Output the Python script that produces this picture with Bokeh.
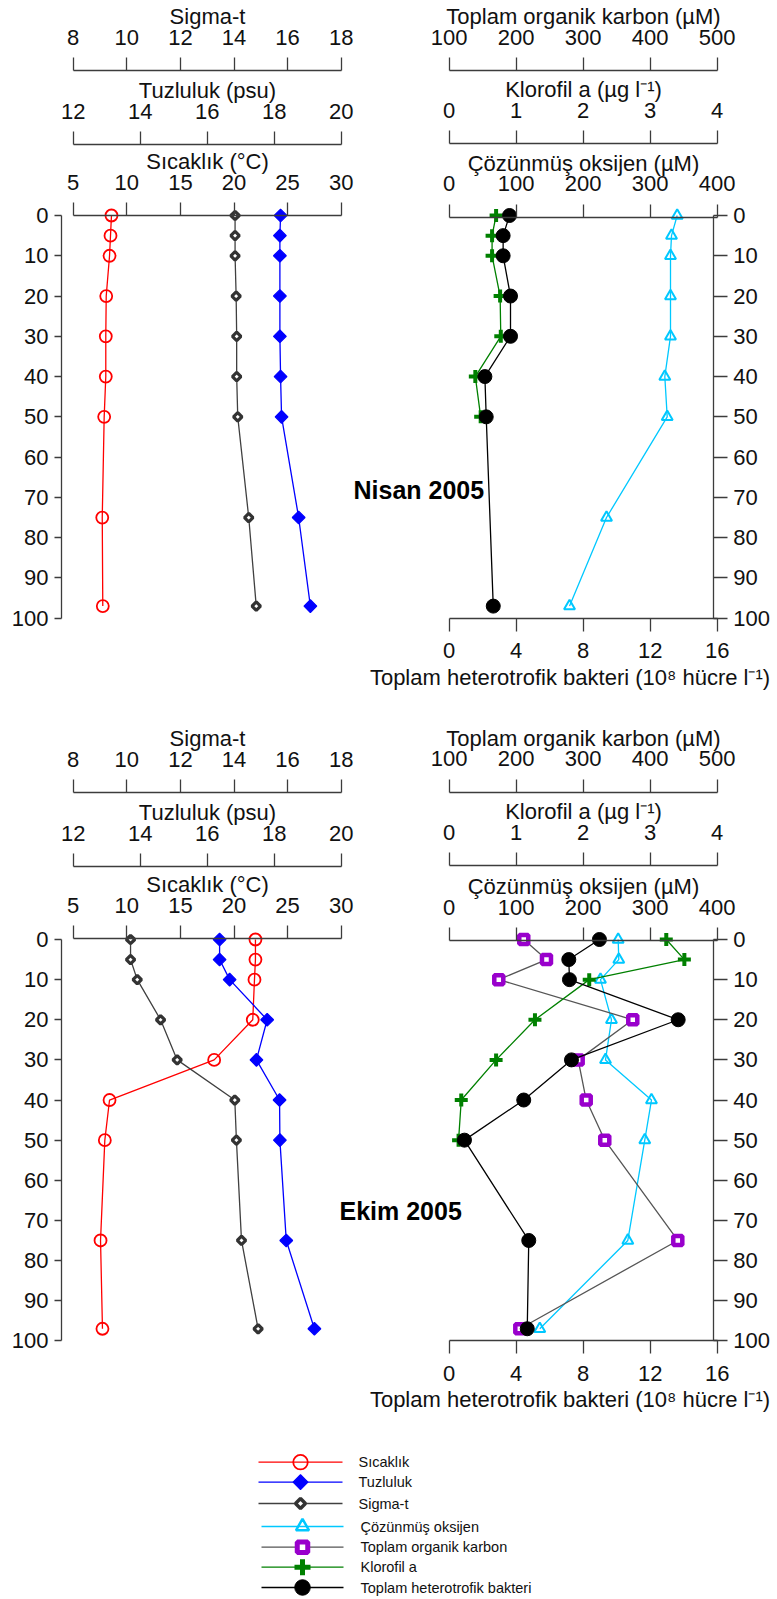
import math
from bokeh.plotting import figure
from bokeh.models import Range1d, LinearAxis, FixedTicker, Label
from bokeh.core.properties import value
from bokeh.layouts import column
from bokeh.embed import file_html
from bokeh.resources import INLINE

# ---------------- data ----------------
depth = [0, 5, 10, 20, 30, 40, 50, 75, 97]

# Nisan 2005
nisan_temp = [8.57, 8.48, 8.39, 8.08, 8.04, 8.04, 7.89, 7.71, 7.76]
nisan_sal = [18.19, 18.17, 18.17, 18.17, 18.17, 18.19, 18.22, 18.73, 19.08]
nisan_sig = [14.04, 14.04, 14.04, 14.08, 14.10, 14.10, 14.14, 14.55, 14.83]
nisan_oxy = [340.3, 331.8, 330.3, 330.3, 330.3, 321.8, 325.4, 234.8, 179.6]
nisan_chl_depth = [0, 5, 10, 20, 30, 40, 50]
nisan_chl = [0.70, 0.64, 0.64, 0.76, 0.77, 0.39, 0.47]
nisan_bac_depth = [0, 5, 10, 20, 30, 40, 50, 97]
nisan_bac = [3.60, 3.22, 3.22, 3.66, 3.66, 2.13, 2.21, 2.63]

# Ekim 2005
ekim_temp = [22.0, 22.0, 21.91, 21.75, 18.15, 8.39, 7.95, 7.55, 7.73]
ekim_sal = [16.37, 16.37, 16.67, 17.79, 17.47, 18.16, 18.17, 18.36, 19.2]
ekim_sig = [10.14, 10.14, 10.39, 11.26, 11.88, 14.03, 14.09, 14.28, 14.90]
ekim_oxy = [252.2, 253.1, 225.8, 242.2, 233.3, 301.9, 291.9, 266.6, 135.2]
ekim_toc = [211.3, 245.2, 174.0, 374.0, 292.5, 304.5, 332.2, 441.2, 205.4]
ekim_chl_depth = [0, 5, 10, 20, 30, 40, 50]
ekim_chl = [3.24, 3.51, 2.09, 1.28, 0.70, 0.18, 0.14]
ekim_bac = [8.97, 7.14, 7.18, 13.67, 7.30, 4.45, 0.91, 4.75, 4.66]

# axis ticks / labels
temp_ticks = [5, 10, 15, 20, 25, 30]
sal_ticks = [12, 14, 16, 18, 20]
sig_ticks = [8, 10, 12, 14, 16, 18]
oxy_ticks = [0, 100, 200, 300, 400]
chl_ticks = [0, 1, 2, 3, 4]
toc_ticks = [100, 200, 300, 400, 500]
bac_ticks = [0, 4, 8, 12, 16]
depth_ticks = [0, 10, 20, 30, 40, 50, 60, 70, 80, 90, 100]

lbl_temp = "Sıcaklık (°C)"
lbl_sal = "Tuzluluk (psu)"
lbl_sig = "Sigma-t"
lbl_oxy = "Çözünmüş oksijen (µM)"
lbl_chl = "Klorofil a (µg l⁻¹)"
lbl_toc = "Toplam organik karbon (µM)"
lbl_bac = "Toplam heterotrofik bakteri (10⁸ hücre l⁻¹)"

legend_names = ["Sıcaklık", "Tuzluluk", "Sigma-t", "Çözünmüş oksijen",
                "Toplam organik karbon", "Klorofil a", "Toplam heterotrofik bakteri"]
legend_keys = ["temp", "sal", "sig", "oxy", "toc", "chl", "bac"]

# ---------------- styling / layout ----------------
W = 777
FONT = "Liberation Sans"
AXC = "#3c3c3c"
TXT = "#111111"
LEFT_A, LEFT_B = 72.7, 340.7     # pixel span of the left panel scales
RIGHT_A, RIGHT_B = 448.7, 716.7  # pixel span of the right panel scales
LEFT_AXIS_PX = 61.0
RIGHT_AXIS_PX = 712.7
LW = 1.3

LINE_COLOR = {"temp": "#ff0000", "sal": "#0000ff", "sig": "#404040", "oxy": "#00c8ff",
              "toc": "#555555", "chl": "#008000", "bac": "#000000"}
MARK = {
    "temp": dict(marker="circle", size=12, fill_color=None, line_color="#ff0000", line_width=1.8),
    "sal": dict(marker="square", angle=math.pi / 4, size=9, fill_color="#0000ff",
                line_color="#0000ff", line_width=1.2),
    "sig": dict(marker="square", angle=math.pi / 4, size=6, fill_color="white",
                line_color="#333333", line_width=3.2),
    "oxy": dict(marker="triangle", size=11, fill_color=None, line_color="#00c8ff", line_width=2),
    "toc": dict(marker="square", size=9, fill_color="white", line_color="#9900cc", line_width=4.5),
    "chl": dict(marker="cross", size=13, line_color="#008000", line_width=4),
    "bac": dict(marker="circle", size=14, fill_color="#000000", line_color="#000000"),
}
LEG_SIZE = {"temp": 14.5, "sal": 10.5, "sig": 7, "oxy": 13, "toc": 10.5, "chl": 16, "bac": 15.5}
LEG_LW = {"temp": 1.8, "sal": 1.2, "sig": 3.5, "oxy": 2.5, "toc": 5, "chl": 5, "bac": 1}


def xrange_px(v0, v1, p0, p1):
    k = (v1 - v0) / (p1 - p0)
    return Range1d(start=v0 - p0 * k, end=v0 + (W - p0) * k)


def style_axis(ax, tick_out, standoff, label_standoff=0):
    ax.major_tick_out = tick_out
    ax.major_tick_in = 0
    ax.minor_tick_out = 0
    ax.minor_tick_in = 0
    ax.axis_line_color = AXC
    ax.major_tick_line_color = AXC
    ax.axis_line_width = 1.3
    ax.major_tick_line_width = 1.3
    ax.major_label_text_font = FONT
    ax.major_label_text_font_size = "22px"
    ax.major_label_text_color = TXT
    ax.major_label_standoff = standoff
    ax.axis_label_text_font = FONT
    ax.axis_label_text_font_size = "22px"
    ax.axis_label_text_font_style = "normal"
    ax.axis_label_text_color = TXT
    ax.axis_label_standoff = label_standoff


def base_fig(H, xr, yr):
    p = figure(width=W, height=H, x_range=xr, y_range=yr,
               x_axis_location=None, y_axis_location=None,
               toolbar_location=None, output_backend="svg",
               min_border=0, min_border_left=0, min_border_right=0,
               min_border_top=0, min_border_bottom=0)
    p.outline_line_color = None
    p.grid.visible = False
    p.background_fill_color = "white"
    p.border_fill_color = "white"
    return p


def make_panel(H, py0, py100, left_axes_py, right_axes_py, bottom_py,
               temp, sal, sig, oxy, chl_d, chl, bac_d, bac, toc,
               title, title_px, bottom_title_py):
    kd = 100.0 / (py100 - py0)
    yr = Range1d(start=(H - py0) * kd, end=-py0 * kd)

    def d_at(py):
        return (py - py0) * kd

    p = base_fig(H, xrange_px(5, 30, LEFT_A, LEFT_B), yr)
    p.extra_x_ranges = {
        "sal": xrange_px(12, 20, LEFT_A, LEFT_B),
        "sig": xrange_px(8, 18, LEFT_A, LEFT_B),
        "oxy": xrange_px(0, 400, RIGHT_A, RIGHT_B),
        "chl": xrange_px(0, 4, RIGHT_A, RIGHT_B),
        "toc": xrange_px(100, 500, RIGHT_A, RIGHT_B),
        "bac": xrange_px(0, 16, RIGHT_A, RIGHT_B),
    }

    def t_at(px):
        return 5 + (px - LEFT_A) * 25.0 / (LEFT_B - LEFT_A)

    specs = [
        ("default", temp_ticks, (5, 30), lbl_temp, left_axes_py[2]),
        ("sal", sal_ticks, (12, 20), lbl_sal, left_axes_py[1]),
        ("sig", sig_ticks, (8, 18), lbl_sig, left_axes_py[0]),
        ("oxy", oxy_ticks, (0, 400), lbl_oxy, right_axes_py[2]),
        ("chl", chl_ticks, (0, 4), lbl_chl, right_axes_py[1]),
        ("toc", toc_ticks, (100, 500), lbl_toc, right_axes_py[0]),
    ]
    for rname, ticks, bnds, lab, py in specs:
        ax = LinearAxis(x_range_name=rname, fixed_location=d_at(py), bounds=bnds,
                        ticker=FixedTicker(ticks=ticks), axis_label=lab)
        style_axis(ax, 13, 13, -2)
        p.add_layout(ax, "above")

    axb = LinearAxis(x_range_name="bac", fixed_location=d_at(bottom_py), bounds=(0, 16),
                     ticker=FixedTicker(ticks=bac_ticks))
    style_axis(axb, 13, 12, 0)
    p.add_layout(axb, "below")
    p.add_layout(Label(x=569.5, y=H - bottom_title_py, x_units="screen", y_units="screen",
                       text=lbl_bac, text_font=FONT, text_font_size="22px",
                       text_color=TXT, text_align="center", text_baseline="middle"))

    axl = LinearAxis(fixed_location=t_at(LEFT_AXIS_PX), bounds=(0, 100),
                     ticker=FixedTicker(ticks=depth_ticks))
    style_axis(axl, 7, 6)
    p.add_layout(axl, "left")
    axr = LinearAxis(fixed_location=t_at(RIGHT_AXIS_PX), bounds=(0, 100),
                     ticker=FixedTicker(ticks=depth_ticks))
    style_axis(axr, 14, 6)
    p.add_layout(axr, "right")

    series = [("temp", temp, depth, "default"), ("sig", sig, depth, "sig"),
              ("sal", sal, depth, "sal"), ("oxy", oxy, depth, "oxy"),
              ("toc", toc, depth, "toc"), ("chl", chl, chl_d, "chl"),
              ("bac", bac, bac_d, "bac")]
    for key, xs, ys, rname in series:
        if xs is None:
            continue
        p.line(xs, ys, x_range_name=rname, line_color=LINE_COLOR[key], line_width=LW)
        p.scatter(xs, ys, x_range_name=rname, **MARK[key])

    p.add_layout(Label(x=title_px[0], y=H - title_px[1], x_units="screen", y_units="screen",
                       text=title, text_font=FONT, text_font_size="25px",
                       text_font_style="bold", text_color="#000000",
                       text_baseline="middle", text_align="left"))
    return p


H1 = 700
p1 = make_panel(H1, 215.0, 617.7, (70, 144, 215), (70, 143, 216.5), 617.7,
                nisan_temp, nisan_sal, nisan_sig, nisan_oxy,
                nisan_chl_depth, nisan_chl, nisan_bac_depth, nisan_bac, None,
                "Nisan 2005", (353, 489.0), 676.7)

H2 = 720
off = H1
p2 = make_panel(H2, 939.0 - off, 1340.3 - off, (792 - off, 866 - off, 938 - off),
                (791.7 - off, 865 - off, 940 - off), 1340.3 - off,
                ekim_temp, ekim_sal, ekim_sig, ekim_oxy,
                ekim_chl_depth, ekim_chl, depth, ekim_bac, ekim_toc,
                "Ekim 2005", (339, 1210.5 - off), 1399.3 - off)

# ---------------- legend (own small figure, pixel coordinates) ----------------
off3 = H1 + H2
H3 = 1599 - off3
leg_row_y = [1461.7, 1481.7, 1503.0, 1526.0, 1546.7, 1566.7, 1587.0]
leg_x0 = [258, 258, 258, 261, 261, 261, 261]
leg_x1 = [342, 342, 342, 343, 343, 343, 343]
leg_text_x = [358, 358, 358, 360, 360, 360, 360]

p3 = base_fig(H3, Range1d(0, W), Range1d(start=H3, end=0))
for i, key in enumerate(legend_keys):
    yy = leg_row_y[i] - off3
    p3.line([leg_x0[i], leg_x1[i]], [yy, yy], line_color=LINE_COLOR[key], line_width=LW)
    mk = dict(MARK[key])
    mk["size"] = LEG_SIZE[key]
    mk["line_width"] = LEG_LW[key]
    p3.scatter([(leg_x0[i] + leg_x1[i]) / 2.0], [yy], **mk)
p3.text(x=leg_text_x, y=[v - off3 for v in leg_row_y], text=legend_names,
        text_font=value(FONT), text_font_size=value("14.5px"), text_color=TXT,
        text_baseline="middle", text_align="left")

layout = column(p1, p2, p3, spacing=0)
open("out.html", "w").write(file_html(layout, INLINE))
